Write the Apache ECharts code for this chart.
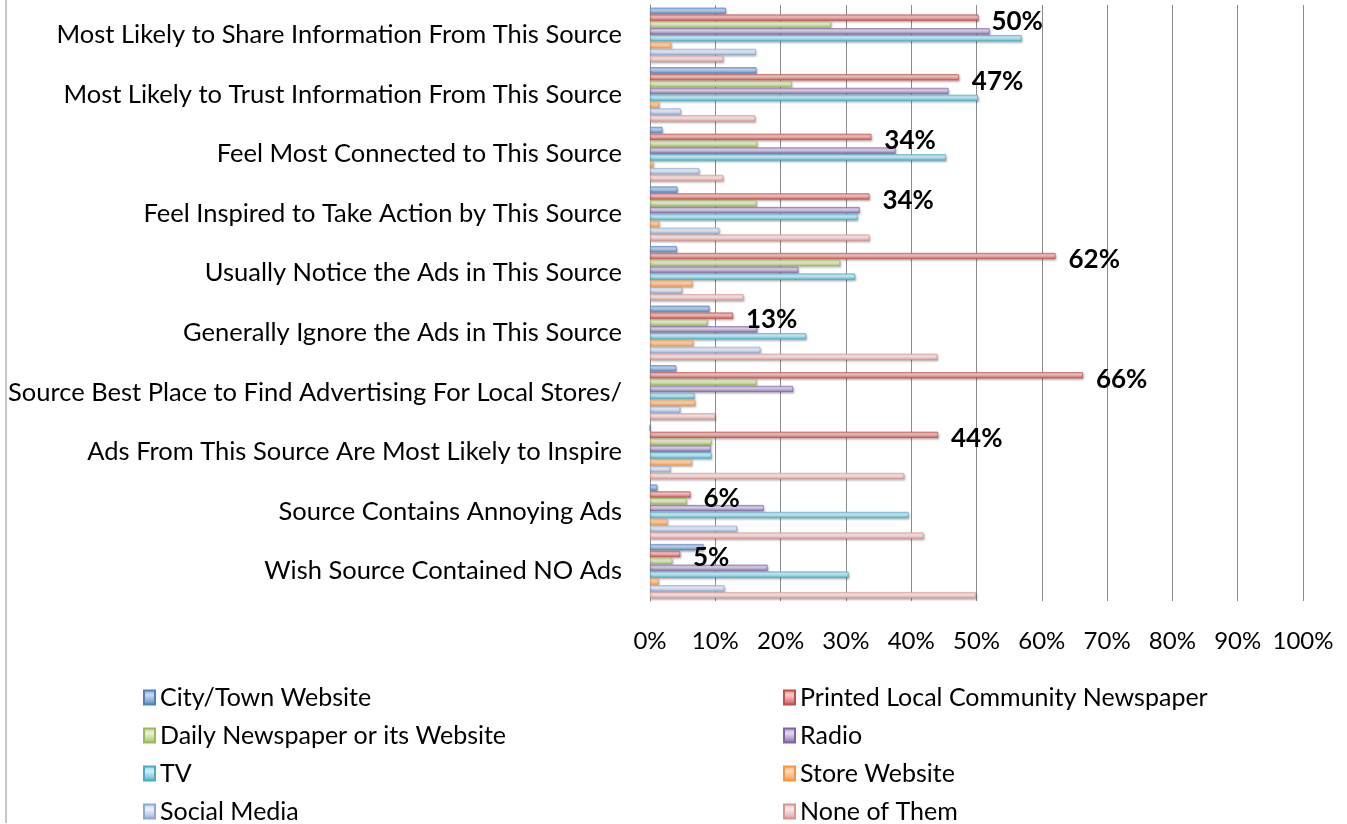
<!DOCTYPE html>
<html>
<head>
<meta charset="utf-8">
<title>Source ratings</title>
<script src="https://cdn.jsdelivr.net/npm/echarts@6/dist/echarts.min.js"></script>
<style>
    html, body { margin: 0; padding: 0; background: #fff; }
    #chart { width: 1347px; height: 824px; }
</style>
</head>
<body>
<div id="chart"></div>
<script>
// categories, top to bottom
var categories = [
    'Most Likely to Share Information From This Source',
    'Most Likely to Trust Information From This Source',
    'Feel Most Connected to This Source',
    'Feel Inspired to Take Action by This Source',
    'Usually Notice the Ads in This Source',
    'Generally Ignore the Ads in This Source',
    'Source Best Place to Find Advertising For Local Stores/',
    'Ads From This Source Are Most Likely to Inspire',
    'Source Contains Annoying Ads',
    'Wish Source Contained NO Ads'
];
var seriesNames = [
    'City/Town Website', 'Printed Local Community Newspaper', 'Daily Newspaper or its Website', 'Radio',
    'TV', 'Store Website', 'Social Media', 'None of Them'
];
// values in percent
var cityTown     = [11.6, 16.3, 1.9, 4.2, 4.1, 9.1, 4.0, 0, 1.1, 8.2];
var printedLocal = [50.3, 47.3, 33.9, 33.6, 62.1, 12.7, 66.3, 44.1, 6.2, 4.6];
var dailyPaper   = [27.7, 21.7, 16.4, 16.3, 29.1, 8.8, 16.3, 9.4, 5.6, 3.4];
var radio        = [52.0, 45.7, 37.6, 32.1, 22.7, 16.4, 21.9, 9.3, 17.4, 18.0];
var tv           = [56.9, 50.2, 45.3, 31.8, 31.4, 23.9, 6.8, 9.4, 39.6, 30.4];
var storeSite    = [3.2, 1.4, 0.5, 1.4, 6.5, 6.6, 6.9, 6.4, 2.7, 1.3];
var socialMedia  = [16.2, 4.7, 7.5, 10.6, 4.9, 16.9, 4.6, 3.1, 13.3, 11.4];
var noneOfThem   = [11.2, 16.1, 11.2, 33.6, 14.3, 44.0, 10.0, 38.9, 41.9, 49.9];
var seriesValues = [cityTown, printedLocal, dailyPaper, radio, tv, storeSite, socialMedia, noneOfThem];

// edge colour / light centre colour for each series
var edgeColors  = ['#4F81BD', '#C0504D', '#9BBB59', '#8064A2', '#4BACC6', '#F79646', '#8EAAD3', '#D99694'];
var lightColors = ['#C6D9F1', '#F7C9C7', '#EBF1DE', '#E2DAEE', '#D2F1F8', '#FDD9B8', '#EEF3FA', '#FBECEC'];

var FONT = 'Lato, "Open Sans", sans-serif';

var mix = function (a, b, t) {
    var pa = parseInt(a.slice(1), 16), pb = parseInt(b.slice(1), 16);
    var r = Math.round(((pa >> 16) & 255) * (1 - t) + ((pb >> 16) & 255) * t);
    var g = Math.round(((pa >> 8) & 255) * (1 - t) + ((pb >> 8) & 255) * t);
    var bl = Math.round((pa & 255) * (1 - t) + (pb & 255) * t);
    return 'rgb(' + r + ',' + g + ',' + bl + ')';
};

var barFill = function (i) {
    return new echarts.graphic.LinearGradient(0, 0, 0, 1, [
        {offset: 0, color: mix(edgeColors[i], lightColors[i], 0.45)},
        {offset: 0.35, color: lightColors[i]},
        {offset: 0.7, color: mix(edgeColors[i], lightColors[i], 0.5)},
        {offset: 1, color: edgeColors[i]}
    ]);
};

var series = seriesNames.map(function (name, i) {
    var s = {
        name: name,
        type: 'bar',
        data: seriesValues[i],
        barGap: '10%',
        barCategoryGap: '9%',
        itemStyle: {
            color: barFill(i),
            borderColor: edgeColors[i],
            borderWidth: 0.6,
            shadowColor: 'rgba(0,0,0,0.28)',
            shadowBlur: 2,
            shadowOffsetX: 1,
            shadowOffsetY: 1.5
        },
        emphasis: {disabled: true}
    };
    if (i === 1) {
        s.label = {
            show: true,
            position: 'right',
            distance: 13,
            offset: [0, 4],
            formatter: function (p) { return Math.round(p.value) + '%'; },
            fontFamily: FONT,
            fontWeight: 'bold',
            fontSize: 26,
            color: '#000'
        };
    }
    return s;
});

var legendText = {fontFamily: FONT, fontSize: 25, color: '#000', lineHeight: 24};

var chart = echarts.init(document.getElementById('chart'));
chart.setOption({
    animation: false,
    backgroundColor: '#fff',
    grid: {left: 650, right: 44, top: 5, bottom: 223, containLabel: false},
    legend: [{
        data: [seriesNames[0], seriesNames[2], seriesNames[4], seriesNames[6]],
        orient: 'vertical', left: 138, top: 680, height: 160,
        icon: 'rect', itemWidth: 11, itemHeight: 14, itemGap: 13,
        textStyle: legendText
    }, {
        data: [seriesNames[1], seriesNames[3], seriesNames[5], seriesNames[7]],
        orient: 'vertical', left: 778, top: 680, height: 160,
        icon: 'rect', itemWidth: 11, itemHeight: 14, itemGap: 13,
        textStyle: legendText
    }],
    xAxis: {
        type: 'value',
        min: 0, max: 100, interval: 10,
        axisLine: {show: false},
        axisTick: {show: false},
        splitLine: {lineStyle: {color: '#8c8c8c', width: 1}},
        axisLabel: {
            formatter: '{value}%',
            margin: 28,
            fontFamily: FONT, fontSize: 24, color: '#000'
        }
    },
    yAxis: {
        type: 'category',
        inverse: true,
        data: categories,
        axisLine: {show: true, lineStyle: {color: '#8c8c8c', width: 1}},
        axisTick: {show: false},
        axisLabel: {
            margin: 28,
            padding: [9, 0, 0, 0],
            fontFamily: FONT, fontSize: 25.5, color: '#000'
        }
    },
    graphic: [{
        type: 'line',
        shape: {x1: 6, y1: 0, x2: 6, y2: 823},
        style: {stroke: '#b4b4b4', lineWidth: 1.5}
    }],
    series: series
});
</script>
</body>
</html>
